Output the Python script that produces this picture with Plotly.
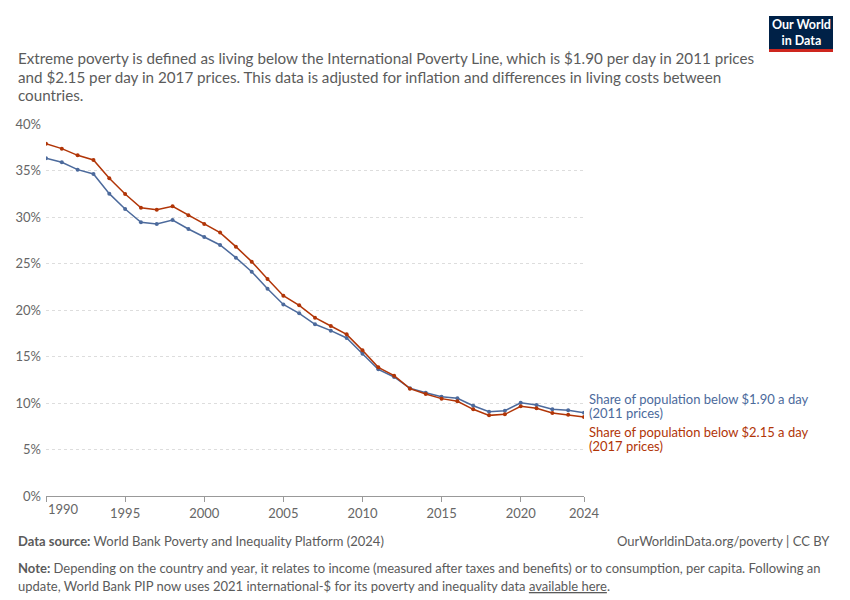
import plotly.graph_objects as go

# Share of population in extreme poverty, world (%)
years = list(range(1990, 2025))
below_190 = [36.31, 35.88, 35.09, 34.62, 32.51, 30.86, 29.43, 29.25, 29.68, 28.71,
             27.85, 26.99, 25.63, 24.12, 22.29, 20.59, 19.64, 18.46, 17.78, 16.99,
             15.30, 13.62, 12.80, 11.58, 11.11, 10.68, 10.50, 9.71, 9.06, 9.17,
             10.03, 9.78, 9.32, 9.21, 8.96]
below_215 = [37.88, 37.35, 36.63, 36.13, 34.16, 32.47, 31.00, 30.79, 31.15, 30.18,
             29.25, 28.32, 26.81, 25.20, 23.33, 21.54, 20.50, 19.18, 18.28, 17.38,
             15.66, 13.84, 12.94, 11.54, 10.97, 10.47, 10.18, 9.32, 8.67, 8.78,
             9.64, 9.43, 8.92, 8.74, 8.49]
x_ticks = [1990, 1995, 2000, 2005, 2010, 2015, 2020, 2024]
y_ticks = [0, 5, 10, 15, 20, 25, 30, 35, 40]

BLUE = "#4C6A9C"
RED = "#B13507"
FONT = "Lato"
GREY = "#5b5b5b"

# the page has an 8px body margin, so the figure is drawn 8px smaller
PAGE = 8
W, H = 850, 600
L, R, T, B = 46, 584, 124, 496  # plot area, in page pixels


def px(x):
    return (x - L) / (R - L)


def py(y):
    return (B - y) / (B - T)


fig = go.Figure()
fig.add_trace(go.Scatter(
    x=years, y=below_190, mode="lines+markers",
    line=dict(color=BLUE, width=1.5), marker=dict(size=4, color=BLUE),
    name="Share of population below $1.90 a day (2011 prices)",
))
fig.add_trace(go.Scatter(
    x=years, y=below_215, mode="lines+markers",
    line=dict(color=RED, width=1.5), marker=dict(size=4, color=RED),
    name="Share of population below $2.15 a day (2017 prices)",
))


def text_line(x, y, text, size=13, color=GREY, anchor="left"):
    return dict(xref="paper", yref="paper", x=px(x), y=py(y), xanchor=anchor, yanchor="middle",
                showarrow=False, font=dict(family=FONT, size=size, color=color), text=text)


annotations = [
    # subtitle
    text_line(16, 58, "Extreme poverty is defined as living below the International Poverty Line, which is $1.90 per day in 2011 prices", 15.2),
    text_line(16, 76.5, "and $2.15 per day in 2017 prices. This data is adjusted for inflation and differences in living costs between", 15.2),
    text_line(16, 95, "countries.", 15.2),
    # series labels
    text_line(587, 398.5, "Share of population below $1.90 a day", 13, BLUE),
    text_line(587, 413, "(2011 prices)", 13, BLUE),
    text_line(587, 431.5, "Share of population below $2.15 a day", 13, RED),
    text_line(587, 446, "(2017 prices)", 13, RED),
    # 1990 tick label, left aligned like the original
    dict(xref="x", yref="paper", x=1990, y=py(509), xanchor="left", yanchor="middle", xshift=0,
         showarrow=False, font=dict(family=FONT, size=13, color="#666666"), text="1990"),
    # footer
    text_line(16, 541, "<b>Data source:</b> World Bank Poverty and Inequality Platform (2024)"),
    text_line(832, 541, "OurWorldinData.org/poverty | CC BY", anchor="right"),
    text_line(16, 568, "<b>Note:</b> Depending on the country and year, it relates to income (measured after taxes and benefits) or to consumption, per capita. Following an"),
    text_line(16, 586, "update, World Bank PIP now uses 2021 international-$ for its poverty and inequality data <u>available here</u>."),
    # logo text
    dict(xref="paper", yref="paper", x=px(801), y=py(32.5), xanchor="center", yanchor="middle",
         showarrow=False, font=dict(family=FONT, size=12.5, color="white"),
         text="<b>Our World<br>in Data</b>"),
]

shapes = [
    dict(type="rect", xref="paper", yref="paper", x0=px(769), x1=px(833), y0=py(49), y1=py(16),
         fillcolor="#002147", line=dict(width=0), layer="above"),
    dict(type="rect", xref="paper", yref="paper", x0=px(769), x1=px(833), y0=py(52), y1=py(49),
         fillcolor="#CE261E", line=dict(width=0), layer="above"),
]

fig.update_layout(
    width=W - PAGE, height=H - PAGE,
    margin=dict(l=L - PAGE, r=W - R, t=T - PAGE, b=H - B, autoexpand=False),
    paper_bgcolor="white", plot_bgcolor="white",
    showlegend=False,
    font=dict(family=FONT, size=13, color="#666666"),
    annotations=annotations,
    shapes=shapes,
    xaxis=dict(
        range=[1990, 2024], tickmode="array", tickvals=x_ticks,
        ticktext=[""] + [str(t) for t in x_ticks[1:]],
        showgrid=False, zeroline=False, showline=True, linecolor="#999999", linewidth=1,
        ticks="outside", ticklen=5, tickcolor="#999999", ticklabelstandoff=0,
        tickfont=dict(family=FONT, size=13, color="#666666"),
    ),
    yaxis=dict(
        range=[0, 40], tickmode="array", tickvals=y_ticks,
        ticktext=[f"{v}%" for v in y_ticks],
        showgrid=True, gridcolor="#dddddd", griddash="3px,3px", gridwidth=1,
        zeroline=False, showline=False, ticks="", ticklabelstandoff=4,
        tickfont=dict(family=FONT, size=13, color="#666666"),
    ),
)

fig.write_html("out.html")
